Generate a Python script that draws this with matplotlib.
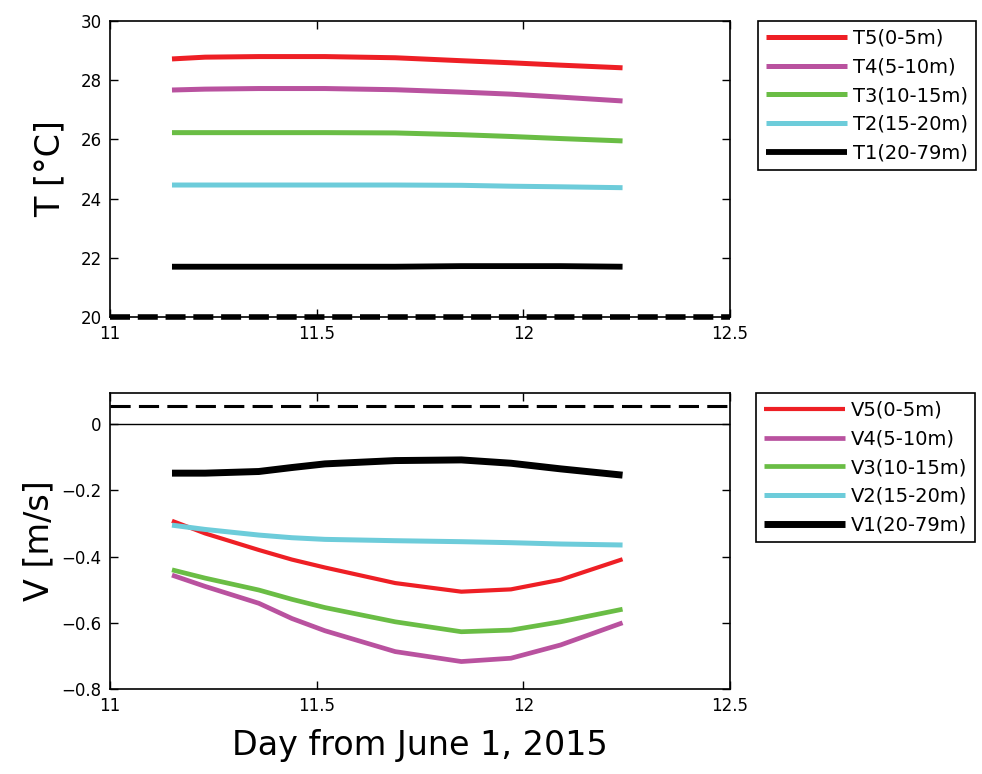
import matplotlib
matplotlib.use("Agg")
import matplotlib.pyplot as plt

# time axis (day from June 1, 2015)
days = [11.15, 11.23, 11.36, 11.44, 11.52, 11.69, 11.85, 11.97, 12.09, 12.24]

# temperatures [degC]
t5 = [28.72, 28.78, 28.80, 28.80, 28.80, 28.76, 28.66, 28.59, 28.51, 28.42]
t4 = [27.67, 27.70, 27.72, 27.72, 27.72, 27.68, 27.60, 27.53, 27.43, 27.30]
t3 = [26.23, 26.23, 26.23, 26.23, 26.23, 26.22, 26.16, 26.10, 26.03, 25.95]
t2 = [24.46, 24.46, 24.46, 24.46, 24.46, 24.46, 24.45, 24.42, 24.40, 24.37]
t1 = [21.70, 21.70, 21.70, 21.70, 21.70, 21.70, 21.72, 21.72, 21.72, 21.70]

# velocities [m/s]
v5 = [-0.292, -0.330, -0.380, -0.409, -0.433, -0.480, -0.506, -0.499, -0.470, -0.408]
v4 = [-0.456, -0.490, -0.541, -0.587, -0.624, -0.687, -0.717, -0.707, -0.667, -0.600]
v3 = [-0.440, -0.465, -0.501, -0.529, -0.554, -0.597, -0.627, -0.622, -0.597, -0.559]
v2 = [-0.305, -0.318, -0.335, -0.343, -0.348, -0.352, -0.355, -0.358, -0.362, -0.365]
v1 = [-0.148, -0.148, -0.143, -0.131, -0.120, -0.110, -0.108, -0.118, -0.135, -0.154]

t_labels = ["T5(0-5m)", "T4(5-10m)", "T3(10-15m)", "T2(15-20m)", "T1(20-79m)"]
v_labels = ["V5(0-5m)", "V4(5-10m)", "V3(10-15m)", "V2(15-20m)", "V1(20-79m)"]
colors = ["#ee1f25", "#b9529f", "#6abd45", "#6dccda", "#000000"]
t_widths = [3.6, 3.6, 3.6, 3.6, 4.2]
v_widths = [3.0, 3.4, 3.4, 3.6, 5.0]

t_ref = 20.0
v_ref = 0.055

plt.rcParams['font.family'] = ['DejaVu Sans']

fig = plt.figure(figsize=(9.82, 7.74), dpi=100)
ax1 = fig.add_axes([0.112, 0.5904, 0.6314, 0.3824])
ax2 = fig.add_axes([0.112, 0.1098, 0.6314, 0.3824])

for ser, lab, c, w in zip([t5, t4, t3, t2, t1], t_labels, colors, t_widths):
    ax1.plot(days, ser, color=c, lw=w, label=lab, solid_capstyle='butt')
ax1.axhline(t_ref, color='black', lw=4, ls=(0, (3.6, 1.4)), clip_on=False)
ax1.set_xlim(11, 12.5)
ax1.set_ylim(20, 30)
ax1.set_yticks([20, 22, 24, 26, 28, 30])
ax1.set_ylabel("T [\u00b0C]", fontsize=24, labelpad=10)

for ser, lab, c, w in zip([v5, v4, v3, v2, v1], v_labels, colors, v_widths):
    ax2.plot(days, ser, color=c, lw=w, label=lab, solid_capstyle='butt')
ax2.axhline(0, color='black', lw=1)
ax2.axhline(v_ref, color='black', lw=2.2, ls=(0, (6.6, 2.7)))
ax2.set_xlim(11, 12.5)
ax2.set_ylim(-0.8, 0.094)
ax2.set_yticks([-0.8, -0.6, -0.4, -0.2, 0])
ax2.set_yticklabels(["\u22120.8", "\u22120.6", "\u22120.4", "\u22120.2", "0"])
ax2.set_ylabel("V [m/s]", fontsize=24, labelpad=4)
ax2.set_xlabel("Day from June 1, 2015", fontsize=24, labelpad=10)

for ax in (ax1, ax2):
    ax.set_xticks([11, 11.5, 12, 12.5])
    ax.set_xticklabels(["11", "11.5", "12", "12.5"])
    ax.tick_params(direction='in', top=True, right=True, length=6, width=1,
                   labelsize=12, pad=6)
    for s in ax.spines.values():
        s.set_linewidth(1.2)

leg_opts = dict(loc='upper left', bbox_transform=fig.transFigure, borderaxespad=0,
                fancybox=False, edgecolor='black', fontsize=14, handlelength=4.2,
                handletextpad=0.3, labelspacing=0.5, framealpha=1)
leg1 = ax1.legend(bbox_to_anchor=(758 / 982, 1 - 21 / 774), **leg_opts)
leg1.get_frame().set_linewidth(1.2)
leg2 = ax2.legend(bbox_to_anchor=(756 / 982, 1 - 393 / 774), **leg_opts)
leg2.get_frame().set_linewidth(1.2)

fig.savefig("out.png", dpi=100)
